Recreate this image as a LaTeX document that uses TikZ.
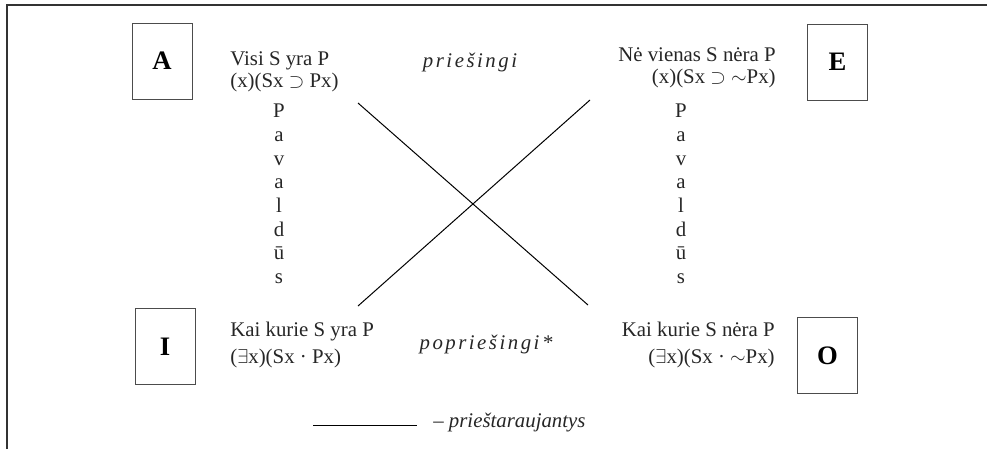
\documentclass[tikz,border=0pt]{standalone}
\usepackage{fontspec}
\setmainfont{Liberation Serif}
\newfontfamily\spacedfont[LetterSpace=12]{Liberation Serif}
\begin{document}
\begin{tikzpicture}[x=0.6pt,y=-0.6pt,line cap=butt,line join=miter,
	letterbox/.style={draw=black!70,line width=0.6pt,minimum width=36pt,minimum height=45.6pt,inner sep=0pt,font=\fontsize{16}{18}\selectfont\bfseries},
	formula/.style={inner sep=0pt,text=black!85,font=\fontsize{12.5}{13.2}\selectfont},
	formulalow/.style={formula,font=\fontsize{12.5}{16}\selectfont},
	column/.style={inner sep=0pt,align=center,text=black!85,font=\fontsize{12.5}{14.2}\selectfont},
	kind/.style={inner sep=0pt,text=black!85,font=\fontsize{12.5}{14}\selectfont\spacedfont\itshape}]
			
			\useasboundingbox (0,0) rectangle (987,449);
			
			% remo (tik virsus ir kaire)
			\draw[black!80,line width=1pt] (7,449) -- (7,5) -- (987,5);
			
			% kvadratai
			\node[letterbox] (boxA) at (162,61) {A};
			\node[letterbox] (boxE) at (837.5,62) {E};
			\node[letterbox] (boxI) at (165,346.5) {I};
			\node[letterbox] (boxO) at (827.5,355.5) {O};
			
			% teiginiai
			\node[formula,align=left,anchor=north west] (txtA) at (230,51) {Visi S yra P\\(x)(Sx $\supset$ Px)};
			\node[formula,align=right,anchor=north east] (txtE) at (776,47) {Nė vienas S nėra P\\(x)(Sx $\supset$ $\sim$Px)};
			\node[formulalow,align=left,anchor=north west] (txtI) at (230,322) {Kai kurie S yra P\\($\exists$x)(Sx · Px)};
			\node[formulalow,align=right,anchor=north east] (txtO) at (775,322) {Kai kurie S nėra P\\($\exists$x)(Sx · $\sim$Px)};
			
			\node[column,anchor=north] (pavA) at (279,104) {P\\a\\v\\a\\l\\d\\ū\\s};
			\node[column,anchor=north] (pavE) at (681,104) {P\\a\\v\\a\\l\\d\\ū\\s};
			
			\node[kind] (prs) at (470,62) {priešingi};
			\node[kind] (pops) at (486,344) {popriešingi*};
			
			% istrizaines
			\coordinate (xA) at (358,103);
			\coordinate (xO) at (588,305);
			\coordinate (xI) at (358,306);
			\coordinate (xE) at (590,100);
			\draw[black,line width=0.6pt] (xA) -- (xO) (xI) -- (xE);
			
			% legenda
			\node[formula,font=\fontsize{12.5}{14}\selectfont\itshape,anchor=west] (leg) at (433,422) {-- prieštaraujantys};
			\coordinate (legL) at (313,425);
			\coordinate (legR) at (417,425);
			\draw[black,line width=0.6pt] (legL) -- (legR);
			
	\end{tikzpicture}
\end{document}
